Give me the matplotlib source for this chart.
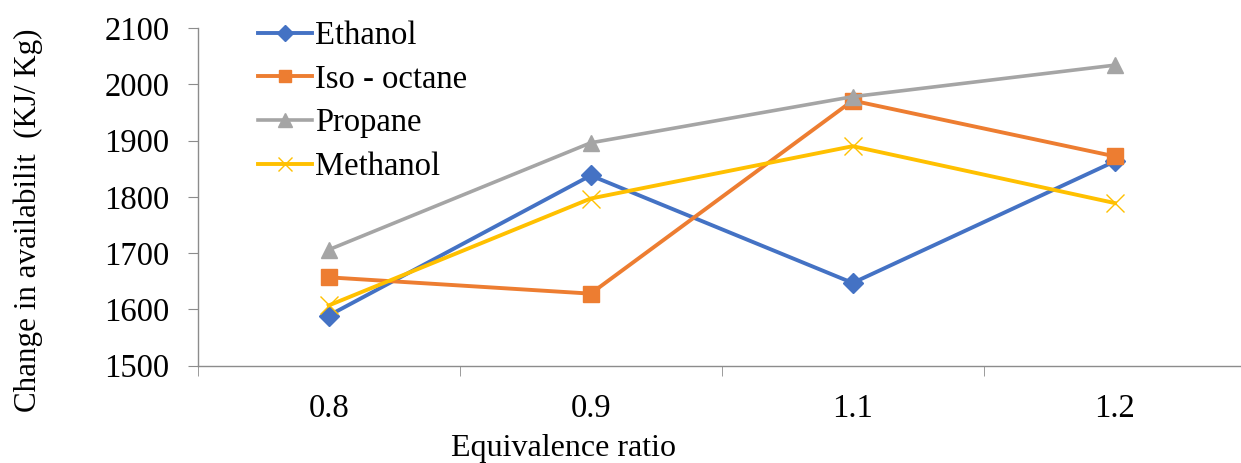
import numpy as np
import matplotlib.pyplot as plt

plt.rcParams['font.family'] = ['Liberation Serif', 'DejaVu Serif']

# razón de equivalencia (categorías) y cambio de disponibilidad (KJ/Kg)
razones = ['0.8', '0.9', '1.1', '1.2']
etanol = [1589, 1838, 1647, 1863]
iso_octano = [1657, 1628, 1971, 1872]
propano = [1706, 1896, 1978, 2034]
metanol = [1607, 1797, 1890, 1789]

fs = 23.5

fig = plt.figure(figsize=(12.41, 4.63), dpi=100)
ax = fig.add_axes([0.1593, 0.2102, 0.8445, 0.7293])

x = np.arange(len(razones))
ax.plot(x, etanol, color='#4472C4', lw=2.8, marker='D', ms=10, label='Ethanol')
ax.plot(x, iso_octano, color='#ED7D31', lw=2.8, marker='s', ms=11.5, label='Iso - octane')
ax.plot(x, propano, color='#A5A5A5', lw=2.6, marker='^', ms=12, label='Propane')
ax.plot(x, metanol, color='#FFC000', lw=2.8, marker='x', ms=13, mew=1, label='Methanol')

ax.set_xlim(-0.5, 3.5)
ax.set_ylim(1500, 2100)
ax.set_yticks(np.arange(1500, 2101, 100))
ax.set_xticks(x)
ax.set_xticklabels(razones)
ax.set_xticks(np.arange(-0.5, 3.6, 1), minor=True)

for lado in ['top', 'right']:
    ax.spines[lado].set_visible(False)
for lado in ['left', 'bottom']:
    ax.spines[lado].set_color('#8c8c8c')
    ax.spines[lado].set_linewidth(1)

ax.tick_params(axis='y', length=7.2, color='#8c8c8c', labelsize=fs, pad=13)
ax.tick_params(axis='x', which='major', length=0, labelsize=fs, pad=20)
ax.tick_params(axis='x', which='minor', length=7.2, color='#8c8c8c')

ax.set_ylabel('Change in availabilit  (KJ/ Kg)', fontsize=22.3)
ax.yaxis.set_label_coords(-0.1476, 0.431)
ax.set_xlabel('Equivalence ratio', fontsize=23)
ax.xaxis.set_label_coords(0.3486, -0.203)

ax.legend(loc='upper left', bbox_to_anchor=(0.2055, 0.962), bbox_transform=fig.transFigure,
          frameon=False, fontsize=fs, handlelength=1.65, handletextpad=0.1,
          labelspacing=0.4, borderpad=0.1, borderaxespad=0, markerscale=0.8)

fig.savefig('out.png', dpi=100)
